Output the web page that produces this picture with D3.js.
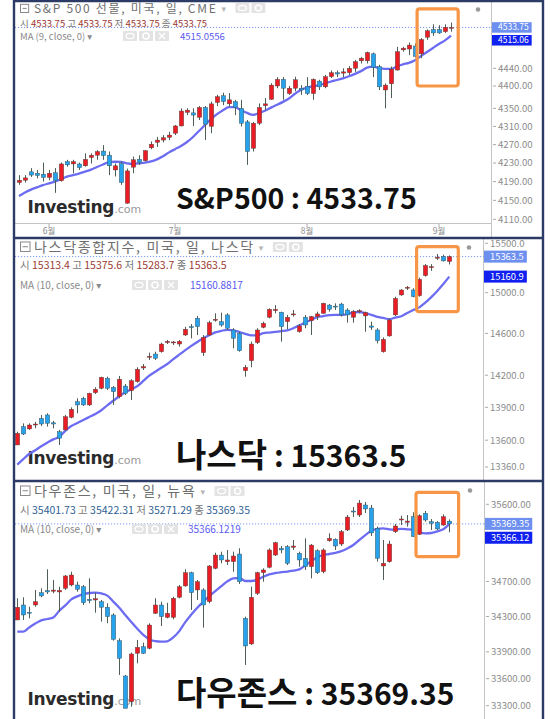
<!DOCTYPE html>
<html><head><meta charset="utf-8">
<script src="https://cdn.jsdelivr.net/npm/d3@7/dist/d3.min.js"></script>
<style>
html,body{margin:0;padding:0;background:#fff;}
svg{display:block;}
text{font-family:"Noto Sans CJK KR","Noto Sans","DejaVu Sans",sans-serif;}
</style></head><body>
<svg id="c" width="554" height="719"></svg>
<script>
// ---------- S&P 500 futures (daily) ----------
const spxOpen  = [4188,4193,4211,4208,4206,4199,4209,4192,4233,4228,4228,4224,4242,4247,4256,4247,4215,4229,4144,4221,4238,4235,4263,4275,4280,4286,4295,4311,4341,4340,4330,4352,4310,4363,4378,4360,4365,4350,4320,4262,4317,4356,4370,4400,4415,4383,4395,4395,4399,4383,4411,4398,4421,4430,4429,4430,4440,4457,4457,4473,4444,4391,4405,4436,4482,4484,4491,4473,4511,4529,4529,4524,4533.75];
const spxHigh  = [4204,4204,4219,4215,4231,4215,4219,4231,4237,4237,4231,4251,4251,4258,4269,4255,4229,4233,4218,4244,4247,4258,4277,4287,4291,4298,4313,4350,4350,4350,4355,4355,4365,4380,4385,4384,4369,4369,4324,4320,4361,4373,4406,4420,4420,4400,4421,4402,4420,4417,4414,4425,4435,4435,4440,4445,4459,4466,4478,4476,4448,4406,4444,4489,4489,4499,4497,4509,4529,4541,4539,4541,4545];
const spxLow   = [4183,4188,4200,4197,4190,4193,4166,4190,4222,4208,4215,4222,4229,4237,4237,4204,4201,4183,4143,4208,4226,4233,4260,4265,4275,4280,4291,4310,4335,4311,4324,4280,4295,4355,4357,4354,4335,4310,4226,4255,4313,4346,4369,4395,4369,4380,4388,4380,4380,4369,4391,4395,4418,4420,4420,4425,4432,4451,4451,4420,4391,4350,4373,4435,4478,4470,4465,4463,4505,4514,4519,4521,4524];
const spxClose = [4193,4198,4204,4203,4199,4208,4192,4228,4226,4233,4220,4238,4247,4255,4246,4224,4224,4188,4213,4237,4231,4257,4271,4280,4285,4291,4311,4344,4346,4335,4352,4315,4360,4376,4365,4369,4352,4317,4255,4317,4352,4360,4402,4415,4395,4395,4414,4391,4383,4415,4398,4421,4430,4427,4432,4440,4455,4463,4476,4442,4398,4402,4438,4478,4486,4493,4467,4506,4526,4521,4521,4534,4533.75];
const spxMA    = [4159.3,4166.7,4172.9,4177.6,4182.5,4186.1,4189.8,4195.3,4200.8,4204,4207.2,4211.4,4215.8,4221.4,4226.8,4231.9,4232.8,4232.4,4229.3,4228.2,4229.1,4231,4233.4,4238,4244.6,4253.1,4260.1,4267,4275.7,4286.7,4299.9,4313.1,4325.9,4337,4345.9,4352.5,4352.5,4345.9,4339.9,4335.4,4339.4,4344.5,4351.6,4357.8,4364.4,4372,4382.5,4391.7,4396.2,4399.5,4401.8,4405.9,4410.1,4413.5,4417.4,4421.9,4427.3,4433.6,4441.4,4443.6,4440.5,4438.9,4438.7,4444.5,4449.1,4452.2,4458.2,4468,4477.2,4486.4,4495.6,4504,4515.0556];
const spxTicks = [4110,4150,4190,4230,4270,4310,4350,4400,4440];
const spxQuote = [4533.75,4533.75,4533.75,4533.75];
const spxMonthIdx = [6,27,49,71];
const spxMonthLabels = ["6월","7월","8월","9월"];

// ---------- Nasdaq Composite (daily) ----------
const ndqOpen  = [13557,13723,13702,13738,13799,13830,13758,13677,13693,13808,13952,13984,13922,14036,14077,14171,14086,13999,14098,14055,14139,14268,14369,14401,14423,14510,14510,14497,14584,14665,14747,14414,14584,14730,14714,14780,14633,14600,14242,14337,14510,14659,14757,14822,14806,14714,14780,14616,14757,14723,14764,14796,14877,14867,14887,14828,14757,14816,14770,14672,14633,14423,14575,14780,14977,15044,15027,14970,15171,15254,15350,15366,15313.4];
const ndqHigh  = [13677,13753,13753,13767,13830,13845,13776,13693,13830,13900,13984,13999,14036,14086,14186,14186,14098,14193,14117,14162,14275,14306,14414,14423,14510,14536,14526,14536,14665,14691,14770,14584,14723,14796,14802,14796,14650,14616,14297,14520,14650,14714,14845,14877,14812,14780,14828,14691,14780,14770,14812,14900,14887,14894,14900,14845,14828,14835,14812,14714,14650,14561,14747,14960,15034,15067,15044,15150,15287,15287,15390,15383,15375.6];
const ndqLow   = [13557,13647,13693,13708,13729,13723,13708,13557,13686,13799,13845,13913,13913,14024,14068,14061,13922,13984,14015,13968,14130,14249,14344,14344,14414,14497,14488,14472,14575,14552,14584,14382,14575,14714,14665,14633,14456,14423,14186,14275,14497,14650,14747,14796,14520,14640,14764,14607,14650,14584,14730,14790,14812,14828,14764,14704,14704,14796,14616,14633,14503,14414,14568,14770,14970,15027,14954,14960,15161,15220,15330,15313,15283.7];
const ndqClose = [13662,13656,13738,13747,13747,13753,13747,13617,13814,13882,13922,13922,14030,14068,14180,14077,14045,14162,14030,14148,14256,14281,14379,14360,14497,14523,14517,14523,14640,14659,14665,14561,14704,14737,14681,14650,14552,14433,14275,14497,14633,14698,14835,14835,14665,14757,14790,14672,14681,14764,14790,14894,14835,14861,14780,14780,14812,14822,14802,14659,14529,14542,14730,14943,15027,15054,14960,15134,15273,15261,15357,15320,15363.5];
const ndqMA    = [13381.6,13430.6,13477.9,13509.3,13546.2,13577.7,13607.4,13631,13685.3,13728.2,13755.7,13783.8,13811.4,13839,13873,13918.8,13960.7,14002.7,14040,14066.9,14096.8,14145.5,14196.4,14233.2,14270.2,14306.3,14351.8,14395,14437.8,14479.3,14517,14552.8,14582,14610.2,14624.8,14634.7,14629.9,14613,14595.5,14580,14582,14601.3,14608.1,14614.9,14621.6,14629.9,14649.5,14679,14705.5,14733.3,14758,14767.8,14778.6,14779.5,14779.5,14789.2,14804,14808.9,14798,14780.5,14761,14750,14738,14754,14767,14799.5,14828.4,14854,14901.4,14956.4,15017.5,15086.2,15160.8817];
const ndqTicks = [13360,13600,13900,14200,14600,15000,15500];
const ndqQuote = [15313.4,15375.6,15283.7,15363.5];

// ---------- Dow Jones Industrial Average (daily) ----------
const djiOpen  = [34260,34431,34348,34431,34572,34595,34588,34580,34622,34660,34660,34640,34496,34488,34469,34405,34317,34026,33630,33344,33884,33958,33940,34336,34431,34290,34290,34519,34649,34802,34603,34603,34469,34852,35006,34929,34929,35018,34279,33989,34564,34802,34864,35006,35084,35103,35096,35026,34968,34871,35056,34813,35173,35189,35134,35298,35521,35474,35592,35556,35318,34879,34929,35278,35415,35388,35454,35247,35494,35395,35388,35356,35401.73];
const djiHigh  = [34508,34519,34411,34603,34622,34841,34718,34640,34775,34813,34698,34660,34737,34571,34488,34450,34336,34052,33641,33891,34034,34003,34222,34508,34469,34457,34526,34660,34841,34813,34718,34622,34890,35033,35045,35065,35045,35084,34298,34641,34813,34852,35084,35161,35111,35122,35181,35045,35200,35134,35073,35084,35259,35200,35298,35474,35568,35651,35627,35592,35337,35181,35173,35368,35466,35474,35506,35482,35521,35427,35403,35482,35422.31];
const djiLow   = [34260,34260,34279,34411,34519,34557,34565,34355,34603,34644,34583,34431,34450,34343,34241,34223,34026,33641,33271,33289,33771,33876,33929,34328,34192,34279,34268,34508,34641,34374,34488,34173,34450,34841,34910,34891,34813,34672,33753,33977,34545,34698,34852,34995,35026,34890,35065,34871,34833,34737,34786,34794,35161,35065,35111,35286,35450,35450,35498,35228,34929,34718,34918,35263,35356,35337,35220,35239,35395,35298,35298,35349,35271.29];
const djiClose = [34405,34317,34337,34469,34534,34580,34602,34598,34764,34775,34610,34457,34480,34503,34405,34298,34041,33827,33271,33876,33951,33884,34203,34431,34298,34336,34508,34640,34802,34572,34698,34431,34879,35006,34949,34949,34995,34698,33966,34519,34802,34833,35065,35149,35065,34910,35111,34949,34871,35122,34802,35065,35200,35111,35279,35450,35509,35615,35545,35263,34968,34910,35134,35345,35427,35403,35220,35466,35415,35376,35310,35454,35369.35];
const djiMA    = [34127.4,34127.4,34176,34220.3,34255.5,34271.4,34288.5,34365.8,34426.3,34494.9,34529.2,34554.3,34568.1,34571.6,34563.5,34538.4,34469.7,34399,34317,34237.3,34160.2,34091.2,34042.5,34020,34014.4,34018.9,34064.1,34134.2,34236.2,34321.4,34400.1,34468.6,34532.6,34590,34646.2,34701.4,34735.9,34740.5,34706,34706,34718.6,34755.6,34783.2,34798.2,34807.4,34814.4,34825.9,34839.7,34887.2,34933.5,34979.8,35006.5,35018.1,35032,35050.6,35083.1,35122.7,35181,35237.1,35288.5,35310.8,35317.8,35306.1,35302.6,35312,35306.1,35297.9,35269.8,35259.3,35262.8,35282.7,35306.1,35366.1219];
const djiTicks = [33300,33600,33900,34300,34700,35600];
const djiQuote = [35401.73,35422.31,35271.29,35369.35];

// Highlighted stretch at the end of each chart: [from index, to index], [upper price, lower price]
const spxFocusIdx = [67.35, 74.2],  spxFocusPx = [4577, 4400];
const ndqFocusIdx = [67.55, 74.5],  ndqFocusPx = [15465, 14812];
const djiFocusIdx = [67.45, 74.55], djiFocusPx = [35742, 34987];

const quoteLabels = ["시","고","저","종"];

const svg = d3.select("#c");
const defs = svg.append("defs");

const COL = {
  up: "#ec1c24", down: "#27a2ec", wick: "#4f5f55", edge: "#3d4744",
  ma: "#6c6cf2", frame: "#2c3a66", axis: "#c4c4c4", tick: "#8c8c8c",
  focus: "#f79646", hdr: "#6f6f6f", lastBox: "#6d8ff0", maBox: "#1020f0"
};

const panels = [
  { id: "spx", title: "S&P 500 선물, 미국, 일, CME", maName: "MA (9, close, 0)",
    big: ["S&P500", " : 4533.75"], bigKo: false,
    O: spxOpen, H: spxHigh, L: spxLow, C: spxClose, MA: spxMA, ticks: spxTicks, fmt: ".2f",
    quote: spxQuote, focusIdx: spxFocusIdx, focusPx: spxFocusPx,
    top: 0, bottom: 238, plotTop: 1, plotBottom: 223, plotLeft: 15, plotRight: 491,
    xr: [19, 451], yDom: [4440, 4110], yPx: [68.3, 219.3],
    h1: 13, h1Size: 12, h2: 26.5, h2Size: 9.5, h3: 40, h3Size: 9.5, iconX: 123, maValX: 180,
    logoY: 213, bigY: 209, boxH: 10.5, tagSize: 8.5, months: true },
  { id: "ndq", title: "나스닥종합지수, 미국, 일, 나스닥", maName: "MA (10, close, 0)",
    big: ["나스닥", " : 15363.5"], bigKo: true,
    O: ndqOpen, H: ndqHigh, L: ndqLow, C: ndqClose, MA: ndqMA, ticks: ndqTicks, fmt: ".1f",
    quote: ndqQuote, focusIdx: ndqFocusIdx, focusPx: ndqFocusPx,
    top: 238, bottom: 481, plotTop: 241, plotBottom: 481, plotLeft: 15, plotRight: 483,
    xr: [17.3, 449.3], yDom: [15500, 13360], yPx: [243.3, 467],
    h1: 252, h1Size: 14, h2: 268.5, h2Size: 10.5, h3: 289, h3Size: 10, iconX: 132, maValX: 190,
    logoY: 464, bigY: 467, boxH: 12, tagSize: 9.4, months: false },
  { id: "dji", title: "다우존스, 미국, 일, 뉴욕", maName: "MA (10, close, 0)",
    big: ["다우존스", " : 35369.35"], bigKo: true,
    O: djiOpen, H: djiHigh, L: djiLow, C: djiClose, MA: djiMA, ticks: djiTicks, fmt: ".2f",
    quote: djiQuote, focusIdx: djiFocusIdx, focusPx: djiFocusPx,
    top: 481, bottom: 719, plotTop: 483, plotBottom: 719, plotLeft: 15, plotRight: 484,
    xr: [17.3, 449.3], yDom: [35600, 33300], yPx: [504.3, 705.7],
    h1: 496, h1Size: 14, h2: 513.5, h2Size: 10.5, h3: 533, h3Size: 10, iconX: 132, maValX: 188,
    logoY: 705, bigY: 705, boxH: 12, tagSize: 9.2, months: false }
];

function iconRow(g, x, y, count) {
  // small grey toggle buttons (eye / settings / close)
  for (let k = 0; k < count; k++) {
    const bx = x + k * 16;
    g.append("rect").attr("x", bx).attr("y", y).attr("width", 14).attr("height", 10)
      .attr("rx", 1).attr("fill", "#e3e3e3");
    if (k === 0) {
      g.append("ellipse").attr("cx", bx + 7).attr("cy", y + 5).attr("rx", 4).attr("ry", 2.6)
        .attr("fill", "none").attr("stroke", "#fff").attr("stroke-width", 1.2);
    } else if (k === 1) {
      g.append("circle").attr("cx", bx + 7).attr("cy", y + 5).attr("r", 3)
        .attr("fill", "none").attr("stroke", "#fff").attr("stroke-width", 1.6);
    } else {
      g.append("path").attr("d", `M${bx + 4},${y + 2}L${bx + 10},${y + 8}M${bx + 10},${y + 2}L${bx + 4},${y + 8}`)
        .attr("stroke", "#fff").attr("stroke-width", 1.3);
    }
  }
}

function drawPanel(p) {
  const n = p.C.length;
  const idx = d3.range(1, n + 1);
  const x = d3.scaleLinear().domain([1, n]).range(p.xr);
  const y = d3.scaleLog().domain(p.yDom).range(p.yPx);
  const g = svg.append("g");

  defs.append("clipPath").attr("id", "clip-" + p.id).append("rect")
    .attr("x", p.plotLeft).attr("y", p.plotTop)
    .attr("width", p.plotRight - p.plotLeft).attr("height", p.plotBottom - p.plotTop);
  const plot = g.append("g").attr("clip-path", `url(#clip-${p.id})`);

  // watermark logo
  const logo = plot.append("text").attr("x", 27.5).attr("y", p.logoY);
  logo.append("tspan").text("Investing").attr("font-family", "DejaVu Sans")
    .attr("font-weight", 700).attr("font-size", 17).attr("fill", "#2b2b2b").attr("letter-spacing", -0.3);
  logo.append("tspan").text(".com").attr("font-family", "DejaVu Sans")
    .attr("font-size", 11).attr("fill", "#9a9a9a");

  // large caption
  const cap = plot.append("text").attr("x", 176).attr("y", p.bigY)
    .attr("font-weight", 700).attr("fill", "#111");
  cap.append("tspan").text(p.big[0]).attr("font-size", p.bigKo ? 33 : 28.5);
  cap.append("tspan").text(p.big[1]).attr("font-size", p.bigKo ? 30 : 28.5);

  // last price line
  const last = p.C[n - 1];
  plot.append("line").attr("x1", p.plotLeft).attr("x2", p.plotRight)
    .attr("y1", y(last)).attr("y2", y(last))
    .attr("stroke", "#7b97ee").attr("stroke-width", 1).attr("stroke-dasharray", "1.2,1.8");

  // moving average
  plot.append("path").datum(idx)
    .attr("d", d3.line().x(i => x(i)).y(i => y(p.MA[i - 1])).curve(d3.curveMonotoneX))
    .attr("fill", "none").attr("stroke", COL.ma).attr("stroke-width", 2.3)
    .attr("stroke-linejoin", "round");

  // candles
  const cg = plot.append("g");
  const cw = 4.4;
  idx.forEach(i => {
    const o = p.O[i - 1], c = p.C[i - 1], hi = p.H[i - 1], lo = p.L[i - 1];
    const up = c >= o;
    const cx = Math.round(x(i)) + 0.5;
    cg.append("line").attr("x1", cx).attr("x2", cx).attr("y1", y(hi)).attr("y2", y(lo))
      .attr("stroke", COL.wick).attr("stroke-width", 1);
    const yt = y(Math.max(o, c)), yb = y(Math.min(o, c));
    cg.append("rect").attr("x", cx - cw / 2).attr("y", yt)
      .attr("width", cw).attr("height", Math.max(1, yb - yt))
      .attr("fill", up ? COL.up : COL.down)
      .attr("stroke", COL.edge).attr("stroke-width", 0.4);
  });

  // highlight box
  g.append("rect")
    .attr("x", x(p.focusIdx[0])).attr("y", y(p.focusPx[0]))
    .attr("width", x(p.focusIdx[1]) - x(p.focusIdx[0]))
    .attr("height", y(p.focusPx[1]) - y(p.focusPx[0]))
    .attr("rx", 2.5).attr("fill", "none").attr("stroke", COL.focus).attr("stroke-width", 3.2);

  // header block
  const hdr = g.append("g").attr("clip-path", `url(#clip-${p.id})`);
  const bs = p.h1Size * 0.68;
  hdr.append("rect").attr("x", 20.5).attr("y", p.h1 - bs - 0.5).attr("width", bs).attr("height", bs)
    .attr("fill", "none").attr("stroke", "#8a8a8a").attr("stroke-width", 1);
  hdr.append("line").attr("x1", 22.5).attr("x2", 18.5 + bs).attr("y1", p.h1 - bs / 2 - 0.5).attr("y2", p.h1 - bs / 2 - 0.5)
    .attr("stroke", "#8a8a8a").attr("stroke-width", 1);
  const t1 = hdr.append("text").attr("x", 34).attr("y", p.h1).attr("font-size", p.h1Size)
    .attr("letter-spacing", 1.7).attr("fill", COL.hdr).text(p.title);
  const t1w = t1.node().getComputedTextLength();
  hdr.append("text").attr("x", 34 + t1w + 4).attr("y", p.h1 - 1).attr("font-size", 9)
    .attr("fill", "#b5b5b5").text("▾");
  iconRow(hdr, 34 + t1w + 18, p.h1 - 10, 2);

  const qUp = p.quote[3] >= p.quote[0];
  const t2 = hdr.append("text").attr("x", 20).attr("y", p.h2).attr("font-size", p.h2Size);
  p.quote.forEach((v, k) => {
    t2.append("tspan").text((k ? "  " : "") + quoteLabels[k] + " ").attr("fill", "#777");
    t2.append("tspan").text(d3.format(p.fmt)(v))
      .attr("fill", qUp ? "#9c3a33" : "#2f5f92");
  });

  hdr.append("text").attr("x", 20).attr("y", p.h3).attr("font-size", p.h3Size)
    .attr("font-family", "DejaVu Sans").attr("fill", "#8a8a8a").text(p.maName + " ▾");
  iconRow(hdr, p.iconX, p.h3 - 9, 3);
  hdr.append("text").attr("x", p.maValX).attr("y", p.h3).attr("font-size", p.h3Size)
    .attr("font-family", "DejaVu Sans").attr("fill", "#5a5af0").text(p.MA[n - 1].toFixed(4));

  // settings dot
  g.append("circle").attr("cx", p.plotRight - (p.id === "spx" ? 13 : 14)).attr("cy", p.top + 9.5)
    .attr("r", 2.3).attr("fill", "#9a9a9a");

  // price axis
  const ax = svg.append("g");
  ax.append("line").attr("x1", p.plotRight + 0.5).attr("x2", p.plotRight + 0.5)
    .attr("y1", p.top).attr("y2", p.bottom).attr("stroke", COL.axis).attr("stroke-width", 1);
  const fmt = d3.format(p.fmt);
  p.ticks.forEach(v => {
    const ty = y(v);
    ax.append("line").attr("x1", p.plotRight + 2).attr("x2", p.plotRight + 5)
      .attr("y1", ty).attr("y2", ty).attr("stroke", "#aaa");
    ax.append("text").attr("x", p.plotRight + 7).attr("y", ty).attr("dy", "0.35em")
      .attr("font-family", "DejaVu Sans").attr("font-size", 9.6).attr("fill", COL.tick)
      .text(fmt(v));
  });

  // value tags on the axis (the moving-average tag steps aside when both would collide)
  const yLast = y(last);
  let yMA = y(p.MA[n - 1]);
  const gap = p.tagSize * 1.45 + 0.5;
  if (Math.abs(yMA - yLast) < gap) yMA = yLast + gap * (yMA >= yLast ? 1 : -1);
  [[yLast, p.C[n - 1], COL.lastBox], [yMA, p.MA[n - 1], COL.maBox]].forEach(([ty, v, col]) => {
    const label = fmt(v);
    const tx = ax.append("text").attr("x", p.plotRight + 7).attr("y", ty).attr("dy", "0.35em")
      .attr("font-family", "DejaVu Sans").attr("font-size", p.tagSize).attr("fill", "#fff").text(label);
    const w = tx.node().getComputedTextLength();
    ax.insert("rect", "text").attr("x", p.plotRight + 1).attr("y", ty - p.boxH / 2)
      .attr("width", w + 9).attr("height", p.boxH).attr("fill", col);
  });
  // dotted line continues to the tag
  ax.append("line").attr("x1", p.plotRight).attr("x2", p.plotRight + 2)
    .attr("y1", yLast).attr("y2", yLast).attr("stroke", "#7b97ee");

  // month axis
  if (p.months) {
    ax.append("line").attr("x1", p.plotLeft).attr("x2", p.plotRight)
      .attr("y1", p.plotBottom + 0.5).attr("y2", p.plotBottom + 0.5).attr("stroke", COL.axis);
    spxMonthIdx.forEach((mi, k) => {
      const mx = x(mi);
      ax.append("line").attr("x1", mx).attr("x2", mx).attr("y1", p.plotBottom + 1).attr("y2", p.plotBottom + 4)
        .attr("stroke", "#aaa");
      ax.append("text").attr("x", mx).attr("y", p.plotBottom + 11).attr("text-anchor", "middle")
        .attr("font-size", 8.5).attr("fill", "#8a8a8a").text(spxMonthLabels[k]);
    });
  }
}

panels.forEach(drawPanel);

// outer frame
const fr = svg.append("g").attr("stroke", COL.frame).attr("stroke-width", 2.4).attr("fill", "none");
fr.append("line").attr("x1", 14).attr("x2", 14).attr("y1", 0).attr("y2", 719);
fr.append("line").attr("x1", 543).attr("x2", 543).attr("y1", 0).attr("y2", 719);
[1, 238, 481].forEach(yy => fr.append("line").attr("x1", 14).attr("x2", 543).attr("y1", yy).attr("y2", yy));
</script></body></html>
